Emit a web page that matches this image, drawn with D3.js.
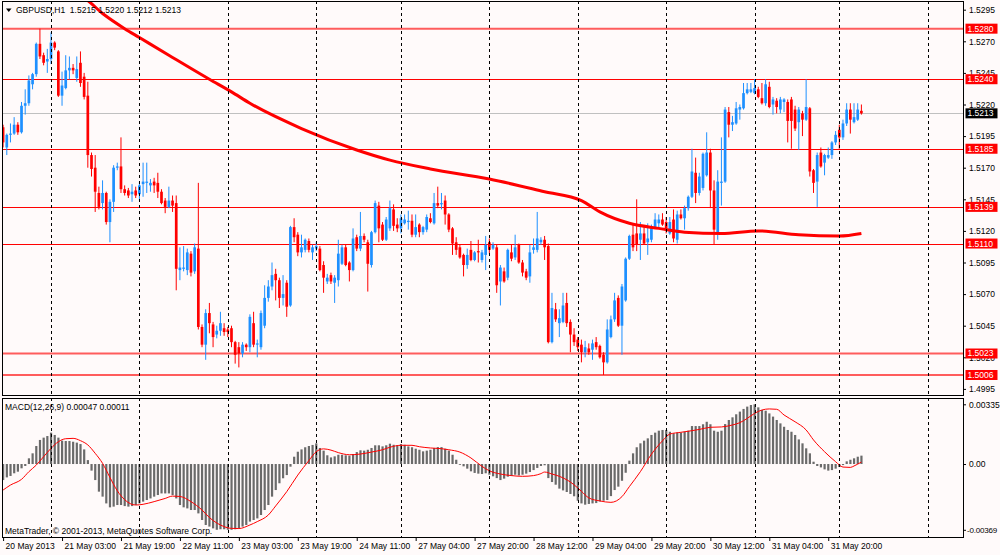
<!DOCTYPE html>
<html><head><meta charset="utf-8">
<script src="https://cdn.jsdelivr.net/npm/d3@7"></script>
<style>html,body{margin:0;padding:0;background:#fffafa;} svg{display:block;font-family:"Liberation Sans",Arial,sans-serif;}</style>
</head><body><svg id="c" width="1000" height="555"></svg>
<script>
// ---------------- DATA ----------------
const opens=[
1.5202,1.5186,1.5196,1.5197,1.5204,1.5198,1.5219,1.5221,1.5236,1.5244,
1.5268,1.5259,1.5254,1.5256,1.5269,1.5262,1.5227,1.5233,1.5247,1.5249,
1.5241,1.5253,1.5242,1.5227,1.5180,1.5170,1.5150,1.5142,1.5150,1.5127,
1.5143,1.5170,1.5171,1.5153,1.5152,1.5149,1.5152,1.5149,1.5157,1.5158,
1.5156,1.5159,1.5158,1.5151,1.5144,1.5139,1.5144,1.5142,1.5089,1.5090,
1.5089,1.5102,1.5088,1.5106,1.5044,1.5030,1.5055,1.5046,1.5038,1.5041,
1.5043,1.5042,1.5043,1.5032,1.5028,1.5023,1.5030,1.5028,1.5047,1.5030,
1.5028,1.5045,1.5067,1.5076,1.5086,1.5081,1.5067,1.5079,1.5061,1.5123,
1.5117,1.5103,1.5105,1.5112,1.5103,1.5106,1.5106,1.5093,1.5080,1.5085,
1.5079,1.5081,1.5094,1.5107,1.5095,1.5089,1.5115,1.5106,1.5116,1.5111,
1.5093,1.5119,1.5140,1.5125,1.5113,1.5122,1.5137,1.5125,1.5122,1.5126,
1.5127,1.5128,1.5117,1.5125,1.5119,1.5121,1.5130,1.5126,1.5142,1.5141,
1.5144,1.5133,1.5122,1.5111,1.5107,1.5101,1.5093,1.5105,1.5097,1.5104,
1.5097,1.5101,1.5111,1.5106,1.5107,1.5080,1.5088,1.5083,1.5103,1.5099,
1.5109,1.5095,1.5088,1.5084,1.5105,1.5105,1.5111,1.5113,1.5108,1.5032,
1.5058,1.5047,1.5048,1.5063,1.5048,1.5038,1.5034,1.5030,1.5024,1.5027,
1.5026,1.5032,1.5029,1.5022,1.5016,1.5036,1.5050,1.5067,1.5045,1.5065,
1.5098,1.5117,1.5118,1.5113,1.5118,1.5111,1.5113,1.5123,1.5126,1.5129,
1.5127,1.5118,1.5129,1.5113,1.5133,1.5130,1.5138,1.5147,1.5166,1.5150,
1.5154,1.5164,1.5182,1.5152,1.5119,1.5158,1.5159,1.5214,1.5204,1.5205,
1.5216,1.5217,1.5229,1.5230,1.5229,1.5232,1.5225,1.5221,1.5234,1.5220,
1.5223,1.5216,1.5222,1.5222,1.5224,1.5216,1.5206,1.5213,1.5208,1.5217,
1.5168,1.5159,1.5182,1.5174,1.5178,1.5180,1.5190,1.5200,1.5194,1.5205,
1.5216,1.5206,1.5208,1.5215];
const highs=[
1.5204,1.5197,1.5205,1.5210,1.5206,1.5222,1.5232,1.5243,1.5245,1.5269,
1.5280,1.5261,1.5264,1.5277,1.5270,1.5263,1.5246,1.5259,1.5258,1.5252,
1.5258,1.5262,1.5245,1.5238,1.5182,1.5180,1.5155,1.5160,1.5151,1.5145,
1.5172,1.5174,1.5194,1.5156,1.5154,1.5157,1.5155,1.5159,1.5174,1.5174,
1.5161,1.5162,1.5166,1.5153,1.5146,1.5155,1.5148,1.5148,1.5107,1.5108,
1.5106,1.5104,1.5110,1.5158,1.5046,1.5058,1.5063,1.5048,1.5045,1.5056,
1.5047,1.5044,1.5045,1.5033,1.5032,1.5032,1.5031,1.5054,1.5056,1.5034,
1.5057,1.5077,1.5081,1.5095,1.5090,1.5083,1.5085,1.5081,1.5124,1.5130,
1.5119,1.5117,1.5114,1.5114,1.5109,1.5111,1.5108,1.5096,1.5086,1.5087,
1.5085,1.5113,1.5109,1.5109,1.5096,1.5122,1.5117,1.5135,1.5118,1.5113,
1.5120,1.5144,1.5143,1.5127,1.5131,1.5144,1.5141,1.5130,1.5133,1.5133,
1.5136,1.5133,1.5133,1.5126,1.5124,1.5133,1.5134,1.5150,1.5155,1.5150,
1.5148,1.5134,1.5123,1.5115,1.5109,1.5102,1.5106,1.5112,1.5104,1.5113,
1.5105,1.5116,1.5114,1.5111,1.5109,1.5093,1.5091,1.5106,1.5109,1.5117,
1.5110,1.5097,1.5090,1.5109,1.5114,1.5135,1.5115,1.5116,1.5110,1.5071,
1.5063,1.5058,1.5071,1.5071,1.5050,1.5043,1.5036,1.5034,1.5033,1.5031,
1.5034,1.5036,1.5030,1.5024,1.5050,1.5053,1.5071,1.5069,1.5078,1.5099,
1.5117,1.5125,1.5145,1.5127,1.5123,1.5126,1.5125,1.5134,1.5133,1.5134,
1.5131,1.5131,1.5137,1.5136,1.5137,1.5140,1.5148,1.5185,1.5178,1.5166,
1.5182,1.5198,1.5185,1.5160,1.5168,1.5194,1.5218,1.5218,1.5211,1.5222,
1.5220,1.5237,1.5237,1.5237,1.5240,1.5234,1.5237,1.5240,1.5238,1.5226,
1.5225,1.5226,1.5225,1.5224,1.5226,1.5219,1.5218,1.5215,1.5240,1.5218,
1.5169,1.5182,1.5186,1.5181,1.5186,1.5191,1.5199,1.5204,1.5208,1.5221,
1.5221,1.5221,1.5221,1.5220];
const lows=[
1.5186,1.5180,1.5190,1.5196,1.5196,1.5197,1.5212,1.5219,1.5232,1.5242,
1.5256,1.5251,1.5245,1.5252,1.5263,1.5226,1.5219,1.5232,1.5240,1.5244,
1.5238,1.5234,1.5224,1.5170,1.5163,1.5135,1.5137,1.5137,1.5125,1.5111,
1.5135,1.5168,1.5150,1.5148,1.5146,1.5143,1.5146,1.5144,1.5147,1.5150,
1.5151,1.5150,1.5146,1.5141,1.5134,1.5138,1.5135,1.5073,1.5081,1.5088,
1.5085,1.5084,1.5086,1.5042,1.5028,1.5018,1.5039,1.5028,1.5035,1.5037,
1.5037,1.5036,1.5028,1.5015,1.5012,1.5020,1.5025,1.5024,1.5028,1.5020,
1.5026,1.5043,1.5064,1.5073,1.5065,1.5059,1.5061,1.5052,1.5060,1.5111,
1.5100,1.5099,1.5103,1.5103,1.5097,1.5104,1.5088,1.5071,1.5078,1.5078,
1.5063,1.5076,1.5093,1.5092,1.5080,1.5088,1.5104,1.5104,1.5111,1.5072,
1.5091,1.5118,1.5111,1.5112,1.5112,1.5120,1.5120,1.5119,1.5118,1.5125,
1.5121,1.5115,1.5115,1.5115,1.5117,1.5119,1.5126,1.5125,1.5138,1.5137,
1.5125,1.5119,1.5101,1.5101,1.5098,1.5084,1.5090,1.5096,1.5096,1.5095,
1.5095,1.5089,1.5102,1.5105,1.5071,1.5061,1.5079,1.5081,1.5096,1.5097,
1.5094,1.5084,1.5081,1.5079,1.5102,1.5103,1.5109,1.5097,1.5031,1.5031,
1.5048,1.5036,1.5047,1.5044,1.5024,1.5029,1.5025,1.5016,1.5020,1.5022,
1.5018,1.5026,1.5019,1.5006,1.5015,1.5035,1.5048,1.5044,1.5022,1.5064,
1.5097,1.5104,1.5104,1.5097,1.5109,1.5101,1.5111,1.5122,1.5123,1.5124,
1.5118,1.5117,1.5111,1.5110,1.5129,1.5121,1.5136,1.5146,1.5142,1.5148,
1.5152,1.5163,1.5138,1.5109,1.5113,1.5140,1.5158,1.5194,1.5199,1.5204,
1.5208,1.5216,1.5228,1.5229,1.5228,1.5225,1.5220,1.5219,1.5217,1.5212,
1.5213,1.5213,1.5214,1.5190,1.5185,1.5199,1.5184,1.5195,1.5207,1.5163,
1.5150,1.5139,1.5170,1.5164,1.5177,1.5177,1.5188,1.5185,1.5192,1.5203,
1.5197,1.5205,1.5207,1.5212];
const closes=[
1.5190,1.5196,1.5197,1.5204,1.5198,1.5219,1.5221,1.5239,1.5244,1.5268,
1.5258,1.5253,1.5256,1.5269,1.5265,1.5227,1.5235,1.5247,1.5249,1.5247,
1.5248,1.5237,1.5226,1.5180,1.5169,1.5151,1.5139,1.5150,1.5127,1.5143,
1.5170,1.5171,1.5153,1.5150,1.5148,1.5151,1.5148,1.5156,1.5159,1.5159,
1.5158,1.5156,1.5151,1.5142,1.5139,1.5144,1.5140,1.5090,1.5091,1.5091,
1.5103,1.5087,1.5107,1.5044,1.5030,1.5055,1.5047,1.5036,1.5041,1.5047,
1.5040,1.5040,1.5032,1.5022,1.5023,1.5030,1.5028,1.5052,1.5030,1.5031,
1.5055,1.5067,1.5076,1.5085,1.5081,1.5067,1.5070,1.5060,1.5123,1.5115,
1.5103,1.5107,1.5113,1.5105,1.5107,1.5108,1.5089,1.5083,1.5083,1.5080,
1.5083,1.5102,1.5107,1.5093,1.5089,1.5114,1.5106,1.5116,1.5113,1.5094,
1.5119,1.5142,1.5122,1.5113,1.5129,1.5138,1.5124,1.5122,1.5130,1.5129,
1.5128,1.5117,1.5123,1.5119,1.5123,1.5131,1.5127,1.5142,1.5140,1.5142,
1.5133,1.5121,1.5110,1.5105,1.5099,1.5093,1.5101,1.5097,1.5103,1.5103,
1.5103,1.5109,1.5105,1.5109,1.5077,1.5091,1.5080,1.5105,1.5098,1.5107,
1.5095,1.5087,1.5083,1.5103,1.5107,1.5114,1.5113,1.5107,1.5032,1.5059,
1.5050,1.5051,1.5061,1.5047,1.5038,1.5032,1.5028,1.5024,1.5028,1.5024,
1.5031,1.5028,1.5020,1.5016,1.5042,1.5050,1.5065,1.5045,1.5076,1.5098,
1.5116,1.5107,1.5109,1.5118,1.5110,1.5114,1.5123,1.5129,1.5129,1.5125,
1.5122,1.5127,1.5114,1.5133,1.5130,1.5138,1.5147,1.5167,1.5150,1.5163,
1.5181,1.5182,1.5152,1.5121,1.5159,1.5159,1.5216,1.5204,1.5206,1.5217,
1.5218,1.5229,1.5232,1.5232,1.5233,1.5226,1.5221,1.5236,1.5218,1.5224,
1.5218,1.5224,1.5224,1.5207,1.5207,1.5201,1.5216,1.5208,1.5218,1.5167,
1.5158,1.5180,1.5171,1.5180,1.5180,1.5190,1.5196,1.5194,1.5205,1.5216,
1.5208,1.5210,1.5216,1.5213];
// MACD(12,26,9) main values (histogram)
const macdMain=[
-0.00090,-0.00075,-0.00067,-0.00052,-0.00043,-0.00024,-0.00011,0.00032,0.00060,0.00101,
0.00135,0.00148,0.00157,0.00176,0.00163,0.00148,0.00131,0.00129,0.00129,0.00125,
0.00120,0.00112,0.00082,0.00022,-0.00037,-0.00090,-0.00155,-0.00183,-0.00221,-0.00243,
-0.00239,-0.00230,-0.00230,-0.00236,-0.00239,-0.00236,-0.00230,-0.00221,-0.00211,-0.00202,
-0.00193,-0.00183,-0.00174,-0.00165,-0.00165,-0.00165,-0.00174,-0.00193,-0.00230,-0.00243,
-0.00249,-0.00258,-0.00258,-0.00277,-0.00314,-0.00342,-0.00351,-0.00361,-0.00369,-0.00366,
-0.00366,-0.00369,-0.00369,-0.00366,-0.00361,-0.00351,-0.00342,-0.00323,-0.00314,-0.00305,
-0.00286,-0.00258,-0.00230,-0.00183,-0.00146,-0.00108,-0.00080,-0.00062,-0.00015,0.00041,
0.00069,0.00082,0.00094,0.00101,0.00107,0.00116,0.00090,0.00075,0.00049,0.00037,
0.00043,0.00052,0.00052,0.00049,0.00047,0.00056,0.00067,0.00077,0.00075,0.00080,
0.00090,0.00105,0.00105,0.00099,0.00105,0.00114,0.00108,0.00105,0.00112,0.00108,
0.00099,0.00094,0.00086,0.00080,0.00071,0.00075,0.00080,0.00090,0.00095,0.00095,
0.00086,0.00075,0.00052,0.00024,-0.00004,-0.00013,-0.00026,-0.00041,-0.00050,-0.00054,
-0.00056,-0.00052,-0.00060,-0.00069,-0.00079,-0.00090,-0.00082,-0.00071,-0.00067,-0.00060,
-0.00064,-0.00060,-0.00054,-0.00045,-0.00034,-0.00022,-0.00011,-0.00007,-0.00079,-0.00101,
-0.00116,-0.00138,-0.00148,-0.00157,-0.00168,-0.00181,-0.00206,-0.00221,-0.00228,-0.00224,
-0.00221,-0.00219,-0.00210,-0.00206,-0.00202,-0.00180,-0.00146,-0.00127,-0.00094,-0.00049,
0.00019,0.00060,0.00094,0.00116,0.00131,0.00144,0.00163,0.00176,0.00187,0.00191,
0.00191,0.00181,0.00172,0.00176,0.00176,0.00181,0.00187,0.00213,0.00213,0.00213,
0.00223,0.00237,0.00223,0.00187,0.00181,0.00187,0.00224,0.00247,0.00262,0.00279,
0.00294,0.00309,0.00322,0.00331,0.00335,0.00318,0.00303,0.00299,0.00284,0.00266,
0.00247,0.00228,0.00209,0.00191,0.00181,0.00163,0.00138,0.00116,0.00088,0.00060,
0.00013,-0.00011,-0.00019,-0.00030,-0.00037,-0.00034,-0.00026,-0.00017,-0.00006,0.00015,
0.00024,0.00032,0.00041,0.00047];
// signal line readings [bar, value]
const signalPts=[[0,-0.00146],[2,-0.00118],[5,-0.00086],[7,-0.00043],[9,-0.00006],[11,0.00041],[13,0.00088],[15,0.00125],[17,0.00142],[19,0.00144],[21,0.00131],[23,0.00107],[25,0.00060],[27,0.00004],[29,-0.00075],[31,-0.00150],[33,-0.00200],[36,-0.00230],[38,-0.00226],[41,-0.00211],[44,-0.00193],[46,-0.00180],[48,-0.00182],[51,-0.00211],[54,-0.00258],[56,-0.00300],[59,-0.00342],[62,-0.00361],[64,-0.00362],[67,-0.00342],[69,-0.00323],[72,-0.00286],[74,-0.00235],[77,-0.00155],[80,-0.00062],[83,0.00019],[85,0.00069],[87,0.00085],[89,0.00078],[91,0.00064],[94,0.00052],[97,0.00056],[100,0.00067],[103,0.00080],[105,0.00094],[108,0.00105],[111,0.00105],[113,0.00097],[116,0.00090],[119,0.00086],[121,0.00080],[124,0.00067],[127,0.00034],[130,-0.00013],[132,-0.00038],[135,-0.00056],[138,-0.00065],[141,-0.00069],[144,-0.00065],[146,-0.00054],[147,-0.00045],[149,-0.00056],[151,-0.00069],[154,-0.00101],[157,-0.00153],[159,-0.00190],[162,-0.00207],[165,-0.00215],[168,-0.00183],[170,-0.00127],[173,-0.00043],[176,0.00055],[179,0.00130],[181,0.00168],[184,0.00178],[187,0.00187],[189,0.00194],[192,0.00206],[195,0.00208],[198,0.00219],[200,0.00232],[202,0.00256],[204,0.00284],[206,0.00303],[208,0.00309],[210,0.00307],[212,0.00275],[215,0.00237],[218,0.00191],[220,0.00135],[223,0.00069],[226,0.00013],[228,-0.00017],[230,-0.00019],[231,-0.00011],[233,0.00011]];
// moving average readings [bar, price]
const maPts=[[20,1.5306],[22,1.5304],[27,1.5292],[33,1.5280],[37,1.5273],[45,1.5259],[56,1.5240],[62,1.5230],[67,1.5221],[81,1.5201],[96,1.5184],[105,1.5176],[116,1.5169],[132,1.5161],[147,1.5151],[157,1.5144],[162,1.5135],[170,1.5126],[178,1.5122],[185,1.5119],[195,1.5118],[205,1.5120],[216,1.5117],[227,1.5116],[233,1.5118]];
const levels=[1.5280,1.5240,1.5185,1.5139,1.5110,1.5023,1.5006];
const softLevels=[1.5280,1.5023,1.5006];
const bidPrice=1.5213;
const priceTicks=[1.5295,1.5270,1.5245,1.5220,1.5195,1.5170,1.5145,1.5120,1.5095,1.5070,1.5045,1.5020,1.4995];
const macdTicks=[0.00335,0,-0.00369];
const macdTickLabels=["0.00335","0.00","-0.00369"];
const dayStarts=[13,37,61,85,108,132,156,180,204,227,251];
const timeBars=[0,16,32,48,64,80,96,112,128,144,160,176,192,208,224];
const timeLabels=["20 May 2013","21 May 03:00","21 May 19:00","22 May 11:00","23 May 03:00","23 May 19:00","24 May 11:00","27 May 04:00","27 May 20:00","28 May 12:00","29 May 04:00","29 May 20:00","30 May 12:00","31 May 04:00","31 May 20:00"];
const titleText="GBPUSD,H1  1.5215 1.5220 1.5212 1.5213";
const macdTitle="MACD(12,26,9) 0.00047 0.00011";
const copyright="MetaTrader, \u00A9 2001-2013, MetaQuotes Software Corp.";

// ---------------- CHART ----------------
const FONT='"Liberation Sans", Arial, sans-serif', FS=8.5;
const svg=d3.select("#c");
svg.append("rect").attr("width",1000).attr("height",555).attr("fill","#fffafa");
const P={l:2,r:963,t:1,b:395}, M={t:398,b:537};
const x=d3.scaleLinear().domain([0,251]).range([3.1,927.7]);
const y=d3.scaleLinear().domain([1.4995,1.5295]).range([388.9,9.7]);
const ym=d3.scaleLinear().domain([-0.00369,0.00335]).range([529.8,404.3]);

const defs=svg.append("defs");
defs.append("clipPath").attr("id","cp").append("rect").attr("x",P.l).attr("y",P.t).attr("width",P.r-P.l).attr("height",P.b-P.t);
defs.append("clipPath").attr("id","cm").append("rect").attr("x",P.l).attr("y",M.t).attr("width",P.r-P.l).attr("height",M.b-M.t);

const gp=svg.append("g").attr("clip-path","url(#cp)");
const gm=svg.append("g").attr("clip-path","url(#cm)");

// day grid
dayStarts.forEach(d=>{
  const xx=Math.round(x(d))+0.5;
  [[P.t,P.b],[M.t,M.b]].forEach(([a,b])=>{
    svg.append("line").attr("x1",xx).attr("x2",xx).attr("y1",a).attr("y2",b)
      .attr("stroke","#000").attr("stroke-width",1).attr("stroke-dasharray","3,3").attr("shape-rendering","crispEdges");
  });
});

// bid line
gp.append("line").attr("x1",P.l).attr("x2",P.r).attr("y1",Math.round(y(bidPrice))+0.5).attr("y2",Math.round(y(bidPrice))+0.5)
  .attr("stroke","#c0c0c0").attr("stroke-width",1);
// levels
levels.forEach(l=>{
  const soft=softLevels.includes(l);
  const yy=soft?y(l):Math.round(y(l))+0.5;
  gp.append("line").attr("x1",P.l).attr("x2",P.r).attr("y1",yy).attr("y2",yy)
    .attr("stroke",soft?"#ff5c5c":"#ff0000").attr("stroke-width",soft?2:1);
});

// candles
const idx=d3.range(opens.length);
const cg=gp.append("g");
cg.selectAll("line.w").data(idx).join("line")
  .attr("x1",i=>x(i)).attr("x2",i=>x(i)).attr("y1",i=>y(highs[i])).attr("y2",i=>y(lows[i]))
  .attr("stroke",i=>closes[i]>=opens[i]?"#1e90ff":"#ff0000").attr("stroke-width",1);
cg.selectAll("rect.b").data(idx).join("rect")
  .attr("x",i=>x(i)-1.35).attr("width",2.7)
  .attr("y",i=>y(Math.max(opens[i],closes[i])))
  .attr("height",i=>Math.max(1,Math.abs(y(opens[i])-y(closes[i]))))
  .attr("fill",i=>closes[i]>=opens[i]?"#1e90ff":"#ff0000");

// moving average
gp.append("path").datum(maPts)
  .attr("d",d3.line().x(d=>x(d[0])).y(d=>y(d[1])).curve(d3.curveMonotoneX))
  .attr("fill","none").attr("stroke","#ff0000").attr("stroke-width",3);

// MACD histogram
gm.selectAll("rect.h").data(idx).join("rect")
  .attr("x",i=>x(i)-1.05).attr("width",2.2)
  .attr("y",i=>Math.min(ym(macdMain[i]),ym(0)))
  .attr("height",i=>Math.max(0.8,Math.abs(ym(macdMain[i])-ym(0))))
  .attr("fill","#6a6a6a");
gm.append("path").datum(signalPts)
  .attr("d",d3.line().x(d=>x(d[0])).y(d=>ym(d[1])).curve(d3.curveMonotoneX))
  .attr("fill","none").attr("stroke","#ff0000").attr("stroke-width",1);

// axes
function styleAxis(g){
  g.select(".domain").remove();
  g.attr("font-family",FONT).attr("font-size",FS);
  g.selectAll("line").attr("stroke","#000");
  g.selectAll("text").attr("fill","#000");
}
const ay=svg.append("g").attr("transform",`translate(${P.r},0)`)
  .call(d3.axisRight(y).tickValues(priceTicks).tickFormat(d3.format(".4f")).tickSize(3).tickPadding(3));
styleAxis(ay);
const am=svg.append("g").attr("transform",`translate(${P.r},0)`)
  .call(d3.axisRight(ym).tickValues(macdTicks).tickFormat((d,i)=>macdTickLabels[i]).tickSize(3).tickPadding(3));
styleAxis(am);
am.selectAll("text").filter((d)=>d<0).attr("x",4).attr("font-size",8).attr("letter-spacing",-0.2);
const ax=svg.append("g").attr("transform",`translate(0,${M.b})`)
  .call(d3.axisBottom(x).tickValues(timeBars).tickFormat((d,i)=>timeLabels[i]).tickSize(4).tickPadding(3));
styleAxis(ax);
ax.selectAll("text").attr("text-anchor","start").attr("x",2).attr("y",6).attr("dy","0.71em");

// level tags
const tags=levels.map(l=>({v:l,bg:"#ff0000"})).concat([{v:bidPrice,bg:"#000"}]);
tags.forEach(t=>{
  const yy=y(t.v);
  svg.append("rect").attr("x",965.5).attr("y",yy-5).attr("width",32).attr("height",10).attr("fill",t.bg);
  svg.append("text").attr("x",967.5).attr("y",yy).attr("dy","0.35em").attr("font-family",FONT).attr("font-size",FS)
    .attr("fill","#fff").text(d3.format(".4f")(t.v));
});

// frames
[[P.t,P.b],[M.t,M.b]].forEach(([a,b])=>{
  svg.append("rect").attr("x",P.l+0.5).attr("y",a+0.5).attr("width",P.r-P.l).attr("height",b-a)
    .attr("fill","none").attr("stroke","#000").attr("shape-rendering","crispEdges");
});

// texts
svg.append("path").attr("d","M6,8.5 L11.5,8.5 L8.75,12 Z").attr("fill","#000");
svg.append("text").attr("x",16).attr("y",13).attr("font-family",FONT).attr("font-size",FS).attr("fill","#000")
  .style("white-space","pre").text(titleText);
svg.append("text").attr("x",5).attr("y",410).attr("font-family",FONT).attr("font-size",FS).attr("fill","#000").text(macdTitle);
svg.append("text").attr("x",5).attr("y",534).attr("font-family",FONT).attr("font-size",FS).attr("fill","#000").text(copyright);
</script></body></html>
